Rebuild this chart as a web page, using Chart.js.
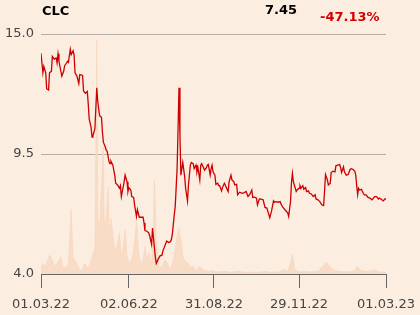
<!DOCTYPE html>
<html>
<head>
<meta charset="utf-8">
<script src="https://cdn.jsdelivr.net/npm/chart.js@4.4.1/dist/chart.umd.min.js"></script>
<style>
  html, body { margin:0; padding:0; background:#fcede1; }
  #wrap { position:relative; width:420px; height:315px; background:#fcede1; overflow:hidden; }
  canvas { position:absolute; left:0; top:0; }
  .hdr { position:absolute; font-family:"DejaVu Sans", sans-serif; font-weight:bold; font-size:13px; line-height:13px; white-space:nowrap; }
</style>
</head>
<body>
<div id="wrap">
  <canvas id="c" width="420" height="315"></canvas>
  <div class="hdr" id="ticker" style="left:42px; top:4px; color:#000;">CLC</div>
  <div class="hdr" id="last" style="left:265px; top:3px; color:#000;">7.45</div>
  <div class="hdr" id="chg" style="left:320px; top:9.5px; color:#d40000;">-47.13%</div>
</div>
<script>
// ---- data (day offsets from 01.03.22) ----
const priceDays = [0,2,3,5,6,8,9,11,12,14,16,17,18,19,22,24,25,27,28,29,31,32,34,35,36,38,40,41,44,45,47,49,50,51,53,54,55,57,59,60,62,64,65,66,68,69,70,72,73,74,76,78,79,81,83,84,85,86,88,89,91,92,93,95,96,98,99,101,102,104,106,108,109,110,112,114,115,117,118,120,121,122,124,126,128,129,131,133,135,137,138,139,141,142,144,145,146,147,148,150,152,153,155,156,158,159,161,162,164,165,166,168,169,170,172,173,175,176,177,179,180,181,182,184,185,187,188,189,191,192,194,195,196,198,199,201,202,204,205,207,208,210,213,215,217,219,221,223,224,226,228,229,231,233,235,237,239,240,242,244,246,247,249,251,253,254,256,259,261,262,264,265,266,267,268,270,271,273,274,275,277,278,280,281,283,284,286,288,290,291,293,295,297,299,300,301,303,304,306,307,309,311,312,314,316,317,318,320,321,323,325,327,328,330,332,333,334,335,336,337,339,341,342,344,346,348,350,351,353,355,357,358,360,362,364,365];
const prices = [14.12,13.22,13.52,13.22,12.49,12.43,13.22,13.29,13.97,13.85,13.90,13.67,14.09,13.75,13.07,13.29,13.55,13.67,13.75,13.70,14.30,14.05,14.23,14.05,13.22,13.07,12.73,13.14,13.10,12.39,12.28,12.37,11.78,11.10,10.72,10.27,10.35,10.65,12.54,11.93,11.25,11.18,10.50,10.04,9.82,9.67,9.62,9.14,9.06,9.17,8.99,8.53,8.16,8.08,7.93,8.05,7.55,7.78,8.23,8.53,8.23,7.78,7.96,7.85,7.55,7.51,7.17,6.64,6.95,6.60,6.60,6.60,6.34,5.99,5.96,5.89,5.74,5.36,6.11,5.21,4.76,4.48,4.68,4.83,4.86,5.06,5.28,5.51,5.44,5.48,5.59,5.84,6.72,7.10,8.83,10.65,12.54,10.35,8.53,9.11,8.46,7.93,7.35,8.08,8.99,9.11,9.06,8.83,8.99,8.68,8.87,8.31,8.99,9.06,8.87,8.76,8.87,8.99,9.02,8.53,8.83,8.99,8.68,8.53,8.11,8.16,8.05,8.05,7.81,7.96,8.16,8.08,7.96,7.78,8.23,8.53,8.31,8.23,8.08,8.11,7.63,7.75,7.70,7.73,7.78,7.55,7.66,7.85,7.51,7.52,7.48,7.17,7.44,7.43,7.40,7.05,7.02,6.87,6.57,6.90,7.35,7.29,7.32,7.29,7.32,7.20,7.05,6.90,6.80,6.64,7.32,8.20,8.61,8.23,8.08,7.78,7.85,7.93,8.05,7.93,8.05,7.88,7.96,7.78,7.81,7.70,7.67,7.55,7.63,7.44,7.40,7.32,7.17,7.14,7.78,8.56,8.31,8.08,8.16,8.65,8.71,8.68,8.96,8.99,9.02,8.87,8.65,8.91,8.68,8.53,8.56,8.79,8.83,8.80,8.71,8.53,8.05,7.63,7.93,7.85,7.88,7.70,7.63,7.63,7.51,7.48,7.40,7.44,7.55,7.55,7.44,7.48,7.43,7.35,7.44,7.45];

const volumeDays = [0,2,5,7,9,12,14,17,21,23,27,29,32,34,36,39,43,46,50,53,56,57,59,60,62,63,66,67,69,71,72,74,77,79,81,83,85,87,89,91,94,96,99,101,103,105,108,110,112,114,117,119,120,122,125,128,131,134,137,141,143,146,148,150,153,156,158,161,164,167,170,173,177,182,187,194,201,208,216,223,230,237,244,251,258,261,264,266,268,272,279,286,293,298,301,303,306,311,318,325,332,335,337,344,353,358,365];
const volumes = [2.4,4.4,3.1,5.8,7.9,5.8,3.1,4.4,7.2,3.1,2.4,4.4,26.9,5.8,5.8,3.1,1.0,4.4,2.4,5.8,10,7.2,97.5,23.9,18.3,29.4,53.1,18.3,23.9,36.4,15.6,23.2,12.8,8.6,12.8,16.9,7.2,11.4,18.3,7.2,4.4,5.8,12.8,21.8,10,4.4,5.8,11.4,5.8,8.6,4.4,18.3,39.2,12.8,2.4,3.1,5.8,4.4,1.7,7.2,14.2,19,14.2,7.2,5.1,4.4,2.8,3.1,1.4,2.8,2.4,1.4,1.0,1.4,0.8,1.1,0.7,1.1,0.7,0.8,0.7,1.0,0.7,0.8,1.9,1.1,4.4,8.3,2.4,0.8,1.0,0.8,1.1,3.1,4.7,4.4,2.8,1.4,1.0,0.8,1.4,3.3,1.7,1.0,1.7,0.8,0.8];

const tickDays = [0, 93, 183, 273, 365];
const tickLabels = ['01.03.22', '02.06.22', '31.08.22', '29.11.22', '01.03.23'];
const priceTicks = [4.0, 9.5, 15.0];

// ---- chart ----
const pricePts = priceDays.map((d, i) => ({ x: d, y: prices[i] }));
const volPts = volumeDays.map((d, i) => ({ x: d, y: volumes[i] }));

new Chart(document.getElementById('c'), {
  type: 'line',
  data: {
    datasets: [
      {
        label: 'Price',
        data: pricePts,
        yAxisID: 'y',
        borderColor: '#cc0000',
        borderWidth: 1.3,
        pointRadius: 0,
        tension: 0,
        fill: false
      },
      {
        label: 'Volume',
        data: volPts,
        yAxisID: 'v',
        borderColor: 'rgba(246,214,190,0.9)',
        borderWidth: 0.8,
        backgroundColor: 'rgba(247,216,192,0.85)',
        pointRadius: 0,
        tension: 0,
        fill: 'origin'
      }
    ]
  },
  options: {
    responsive: false,
    animation: false,
    events: [],
    layout: { padding: { top: 34, right: 34, left: 0, bottom: 0 } },
    plugins: { legend: { display: false }, tooltip: { enabled: false }, title: { display: false } },
    scales: {
      x: {
        type: 'linear',
        min: tickDays[0],
        max: tickDays[tickDays.length - 1],
        afterBuildTicks: (s) => { s.ticks = tickDays.map(v => ({ value: v })); },
        afterFit: (s) => { s.height = 41; s.paddingRight = 0; s.paddingLeft = 0; },
        ticks: {
          callback: (v) => { const i = tickDays.indexOf(v); return i >= 0 ? tickLabels[i] : ''; },
          color: '#444',
          font: { family: 'DejaVu Sans', size: 13 },
          padding: 9,
          maxRotation: 0,
          autoSkip: false
        },
        grid: { drawOnChartArea: false, drawTicks: true, tickLength: 14, color: '#666', lineWidth: 1 },
        border: { display: true, color: '#666', width: 1 }
      },
      y: {
        type: 'linear',
        position: 'left',
        min: 4,
        max: 15,
        afterBuildTicks: (s) => { s.ticks = priceTicks.map(v => ({ value: v })); },
        afterFit: (s) => { s.width = 41; },
        ticks: {
          callback: (v) => Number(v).toFixed(1),
          color: '#444',
          font: { family: 'DejaVu Sans', size: 13 },
          padding: 7
        },
        grid: { drawTicks: false, color: '#b5aca6', lineWidth: 1 },
        border: { display: false }
      },
      v: {
        type: 'linear',
        display: false,
        min: 0,
        max: 100
      }
    }
  }
});
</script>
</body>
</html>
